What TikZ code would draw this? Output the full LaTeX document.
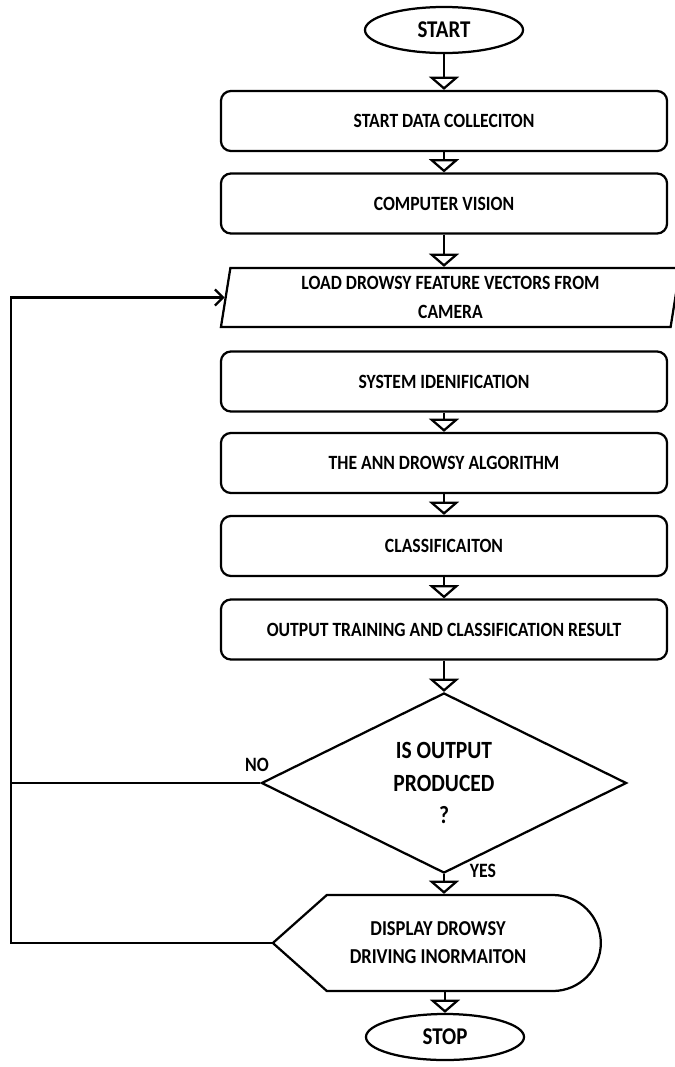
\documentclass[tikz,border=0pt]{standalone}
\usepackage{fontspec}
\setmainfont[FakeStretch=0.87]{Carlito}
\usepackage{tikz}
\usetikzlibrary{arrows.meta, positioning, shapes.geometric}

\begin{document}
\begin{tikzpicture}[
    x=0.025cm, y=0.025cm,
    line width=1.6pt,
    term/.style={ellipse, draw, minimum width=3.95cm, minimum height=1.15cm, inner sep=0pt, font=\bfseries\fontsize{17.1}{18}\selectfont},
    box/.style={rectangle, draw, rounded corners=0.25cm, minimum width=11.15cm, minimum height=1.5cm, font=\bfseries\fontsize{14.4}{15}\selectfont},
    io/.style={trapezium, draw, trapezium left angle=77.6, trapezium right angle=102.4, trapezium stretches body, minimum width=11.475cm, minimum height=1.475cm, inner sep=0pt, align=center, font=\bfseries\fontsize{14.4}{21}\selectfont},
    decision/.style={diamond, draw, aspect=2, inner sep=0pt, minimum width=9.125cm, minimum height=4.5cm, align=center, font=\bfseries\fontsize{17.6}{23.4}\selectfont},
    arrow/.style={-{Triangle[open, width=0.75cm, length=0.33cm]}},
    back/.style={-{Straight Barb[length=0.2cm, width=0.4cm]}},
    label/.style={font=\bfseries\fontsize{14.5}{15}\selectfont}
]
\useasboundingbox (0,0) rectangle (675,-1067);

% Start
\node[term] (start) at (444,-30) {START};

% Processing steps
\node[box] (collect) at (444,-121) {START DATA COLLECITON};
\node[box] (vision) at (444,-203.5) {COMPUTER VISION};
\node[io] (load) at (450.5,-297.5) {LOAD DROWSY FEATURE VECTORS FROM\\CAMERA};
\node[box] (ident) at (444,-381.5) {SYSTEM IDENIFICATION};
\node[box] (ann) at (444,-463) {THE ANN DROWSY ALGORITHM};
\node[box] (classify) at (444,-546) {CLASSIFICAITON};
\node[box] (result) at (444,-629.5) {OUTPUT TRAINING AND CLASSIFICATION RESULT};

% Decision
\node[decision] (check) at (444,-783) {IS OUTPUT\\PRODUCED\\?};
\node[label] (no) at (257,-765) {NO};
\node[label] (yes) at (483,-871) {YES};

% Display
\node[minimum width=8.2cm, minimum height=2.4cm, inner sep=0pt, align=center, font=\bfseries\fontsize{15.1}{19.8}\selectfont] (disp) at (438,-943) {DISPLAY DROWSY\\DRIVING INORMAITON};
\draw (disp.west) -- ++(54,48) -- ++(226,0) arc (90:-90:48) -- ++(-226,0) -- cycle;

% Stop
\node[term] (stop) at (445,-1037) {STOP};

% Loop corner
\coordinate (corner) at (11,-783);

% Arrows
\draw[arrow] (start) -- (collect);
\draw[arrow] (collect) -- (vision);
\draw[arrow] (vision) -- (vision |- load.north);
\draw[arrow] (ident) -- (ann);
\draw[arrow] (ann) -- (classify);
\draw[arrow] (classify) -- (result);
\draw[arrow] (result) -- (check);
\draw[arrow] (check) -- (check |- disp.north);
\draw[arrow] (stop |- disp.south) -- (stop);
\draw[back] (check.west) -- (corner) |- (load.west);
\draw (disp.west) -| (corner);

\end{tikzpicture}
\end{document}
